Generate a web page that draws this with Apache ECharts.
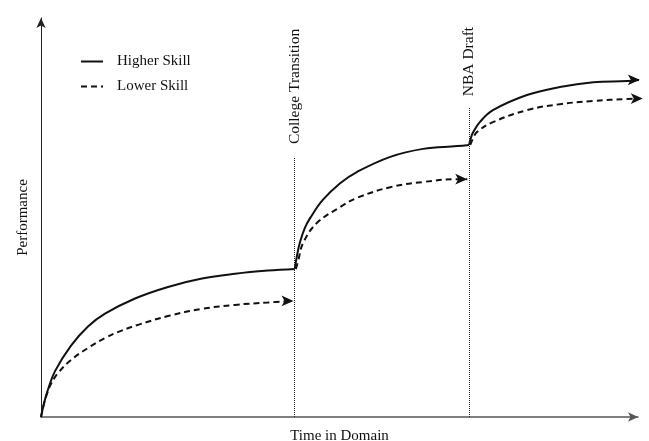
<!DOCTYPE html>
<html>
<head>
<meta charset="utf-8">
<script src="https://cdn.jsdelivr.net/npm/echarts@6/dist/echarts.min.js"></script>
<style>
html,body{margin:0;padding:0;background:#fff;}
#chart{width:649px;height:441px;}
</style>
</head>
<body>
<div id="chart"></div>
<script>
// values on a 0-100 scale for both axes
var higherSeg1 = [[0,0],[0.5,3.4],[1.17,6.9],[2.35,11.5],[5.03,17.9],[7.87,22.7],[10.72,25.9],[15.75,29.7],[21.27,32.6],[26.97,34.7],[32.5,35.9],[38.0,36.7],[42.5,37.1]];
var higherSeg2 = [[42.5,37.1],[42.9,40.6],[43.4,43.9],[44.2,47.4],[45.1,49.9],[47.2,54.4],[50.1,58.6],[52.9,61.4],[58.5,65.2],[64.0,67.2],[69.7,67.9],[71.7,68.2]];
var higherSeg3 = [[71.7,68.2],[72.0,69.9],[72.4,71.4],[73.5,73.9],[75.7,76.9],[81.4,80.7],[86.9,82.7],[92.5,83.9],[98.2,84.2],[100.3,84.5]];

var lowerSeg1 = [[0,0],[0.5,3.3],[1.0,5.8],[1.68,8.3],[2.85,11.0],[5.03,14.3],[7.87,17.3],[10.72,19.8],[13.4,21.6],[16.25,23.1],[21.27,25.3],[26.97,27.1],[32.5,28.1],[38.0,28.7],[42.3,29.1]];
var lowerSeg2 = [[42.7,37.1],[43.1,39.3],[43.9,43.6],[46.2,48.6],[50.1,52.6],[52.9,54.9],[58.5,57.6],[64.0,58.9],[69.7,59.6],[71.4,59.6]];
var lowerSeg3 = [[71.9,68.2],[72.4,69.9],[73.0,71.4],[75.7,73.9],[81.4,76.9],[86.9,78.4],[92.5,79.2],[98.2,79.7],[100.8,79.8]];

var seriesNames = ['Higher Skill', 'Lower Skill'];
var transitions = ['College Transition', 'NBA Draft'];
var transitionX = [42.5, 71.7];
var transitionLineTop = [65.2, 77.7];
var transitionLabelY = [68.4, 80.4];

var FONT = 'Liberation Serif';

function withArrow(seg){
	var d = [];
	for(var i = 0; i < seg.length; i++){
		if(i == seg.length - 1){
			d.push({value: seg[i], symbol: 'arrow', symbolSize: [8, 12], symbolRotate: -90});
		}else{
			d.push({value: seg[i], symbol: 'none'});
		}
	}
	return d;
}

function plain(seg){
	var d = [];
	for(var i = 0; i < seg.length; i++){
		d.push({value: seg[i], symbol: 'none'});
	}
	return d;
}

function mkSeries(name, data, dashed){
	return {
		name: name,
		type: 'line',
		data: data,
		symbol: 'none',
		smooth: 0.4,
		clip: false,
		lineStyle: {color: '#111', width: 2, type: dashed ? [6, 4] : 'solid'},
		itemStyle: {color: '#111'},
		emphasis: {disabled: true},
		z: 3
	};
}

var s1 = mkSeries(seriesNames[0], plain(higherSeg1), false);
s1.markLine = {
	silent: true,
	symbol: ['none', 'none'],
	label: {show: false},
	lineStyle: {color: '#222', width: 1, type: 'dotted'},
	data: [
		[{coord: [transitionX[0], 0]}, {coord: [transitionX[0], transitionLineTop[0]]}],
		[{coord: [transitionX[1], 0]}, {coord: [transitionX[1], transitionLineTop[1]]}]
	]
};
s1.markPoint = {
	silent: true,
	symbol: 'circle',
	symbolSize: 0,
	label: {
		show: true,
		position: 'inside',
		formatter: '{b}',
		align: 'left',
		verticalAlign: 'middle',
		rotate: 90,
		color: '#111',
		fontFamily: FONT,
		fontSize: 15.5
	},
	data: [
		{name: transitions[0], coord: [transitionX[0], transitionLabelY[0]]},
		{name: transitions[1], coord: [transitionX[1], transitionLabelY[1]]}
	]
};

var option = {
	backgroundColor: '#fff',
	animation: false,
	grid: {left: 41, right: 11, top: 18, bottom: 24, outerBoundsMode: 'none', containLabel: false},
	legend: {
		orient: 'vertical',
		left: 75,
		top: 49,
		itemWidth: 22,
		itemHeight: 14,
		itemGap: 10,
		data: seriesNames,
		itemStyle: {opacity: 0},
		textStyle: {fontFamily: FONT, fontSize: 15, color: '#111', padding: [0, 0, 0, 9]}
	},
	xAxis: {
		type: 'value',
		min: 0,
		max: 100,
		name: 'Time in Domain',
		nameLocation: 'middle',
		nameGap: 12,
		nameTextStyle: {fontFamily: FONT, fontSize: 15, color: '#111'},
		axisLine: {lineStyle: {color: '#555', width: 1.5}, symbol: ['none', 'arrow'], symbolSize: [7, 10]},
		axisTick: {show: false},
		axisLabel: {show: false},
		splitLine: {show: false}
	},
	yAxis: {
		type: 'value',
		min: 0,
		max: 100,
		name: 'Performance',
		nameLocation: 'middle',
		nameGap: 10,
		nameRotate: 90,
		nameTextStyle: {fontFamily: FONT, fontSize: 15, color: '#111'},
		axisLine: {lineStyle: {color: '#222', width: 1}, symbol: ['none', 'arrow'], symbolSize: [7, 10]},
		axisTick: {show: false},
		axisLabel: {show: false},
		splitLine: {show: false}
	},
	series: [
		s1,
		mkSeries(seriesNames[0], plain(higherSeg2), false),
		mkSeries(seriesNames[0], withArrow(higherSeg3), false),
		mkSeries(seriesNames[1], withArrow(lowerSeg1), true),
		mkSeries(seriesNames[1], withArrow(lowerSeg2), true),
		mkSeries(seriesNames[1], withArrow(lowerSeg3), true)
	]
};

var theChart = echarts.init(document.getElementById('chart'));
theChart.setOption(option);
</script>
</body>
</html>
